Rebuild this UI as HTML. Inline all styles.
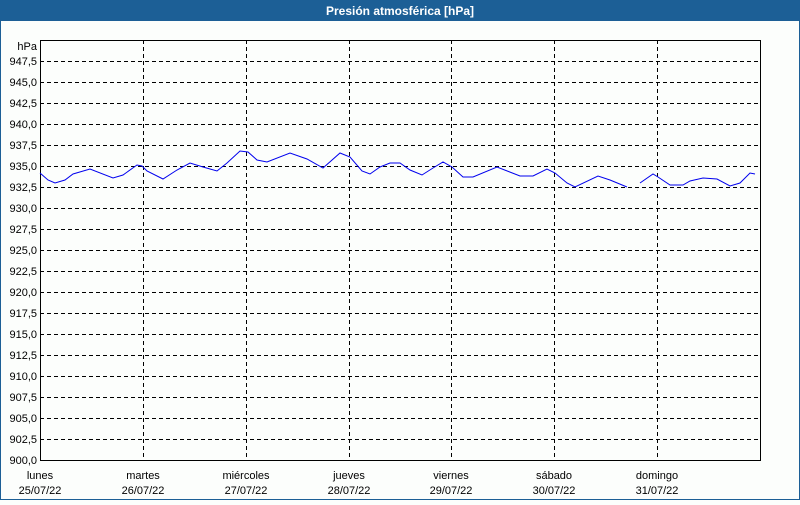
<!DOCTYPE html><html><head><meta charset="utf-8"><style>
body{margin:0;width:800px;height:500px;background:#fcfefc;overflow:hidden;font-family:"Liberation Sans","DejaVu Sans",sans-serif}
</style></head><body>
<svg width="800" height="500" xmlns="http://www.w3.org/2000/svg" font-family="Liberation Sans, DejaVu Sans, sans-serif" font-size="11">
<rect x="0" y="0" width="800" height="500" fill="#fcfefc"/>
<rect x="0" y="0" width="800" height="21" fill="#1c5f96"/>
<rect x="0.5" y="0.5" width="799" height="499" fill="none" stroke="#1c5f96"/>
<text x="400" y="15" fill="#fff" font-weight="bold" text-anchor="middle" font-size="12">Presión atmosférica [hPa]</text>
<g stroke="#000" stroke-dasharray="4,3" stroke-width="1">
<path d="M40 61.5H760M40 82.5H760M40 103.5H760M40 124.5H760M40 145.5H760M40 166.5H760M40 187.5H760M40 208.5H760M40 229.5H760M40 250.5H760M40 271.5H760M40 292.5H760M40 313.5H760M40 334.5H760M40 355.5H760M40 376.5H760M40 397.5H760M40 418.5H760M40 439.5H760"/>
<path d="M143.5 40V461M246.5 40V461M349.5 40V461M451.5 40V461M554.5 40V461M657.5 40V461"/>
</g>
<rect x="40.5" y="40.5" width="720" height="420" fill="none" stroke="#000"/>
<g text-anchor="end" fill="#000">
<text x="37" y="50">hPa</text>
<text x="37" y="65">947,5</text><text x="37" y="86">945,0</text><text x="37" y="107">942,5</text><text x="37" y="128">940,0</text>
<text x="37" y="149">937,5</text><text x="37" y="170">935,0</text><text x="37" y="191">932,5</text><text x="37" y="212">930,0</text>
<text x="37" y="233">927,5</text><text x="37" y="254">925,0</text><text x="37" y="275">922,5</text><text x="37" y="296">920,0</text>
<text x="37" y="317">917,5</text><text x="37" y="338">915,0</text><text x="37" y="359">912,5</text><text x="37" y="380">910,0</text>
<text x="37" y="401">907,5</text><text x="37" y="422">905,0</text><text x="37" y="443">902,5</text><text x="37" y="464">900,0</text>
</g>
<g text-anchor="middle" fill="#000">
<text x="40" y="479">lunes</text><text x="40" y="494">25/07/22</text>
<text x="143" y="479">martes</text><text x="143" y="494">26/07/22</text>
<text x="246" y="479">miércoles</text><text x="246" y="494">27/07/22</text>
<text x="349" y="479">jueves</text><text x="349" y="494">28/07/22</text>
<text x="451" y="479">viernes</text><text x="451" y="494">29/07/22</text>
<text x="554" y="479">sábado</text><text x="554" y="494">30/07/22</text>
<text x="657" y="479">domingo</text><text x="657" y="494">31/07/22</text>
</g>
<g fill="none" stroke="#0000ee" stroke-width="1">
<polyline points="40,173 48,180 55,183 65,180 73,174 90,169 113,178 123,175 137,165 142,166 147,171 163,179 177,170 190,163 203,167 217,171 227,163 240,151 248,152 257,160 267,162 290,153 307,159 323,168 340,153 350,157 362,171 370,174 380,167 390,163 400,163 410,170 422,175 433,168 443,162 452,167 463,177 473,177 497,167 520,176 533,176 547,169 555,173 567,183 575,187 598,176 610,180 627,187"/>
<polyline points="640,183 653,174 658,177 670,185 683,185 690,181 703,178 717,179 730,186 740,183 750,173 755,174"/>
</g>
</svg>
</body></html>
